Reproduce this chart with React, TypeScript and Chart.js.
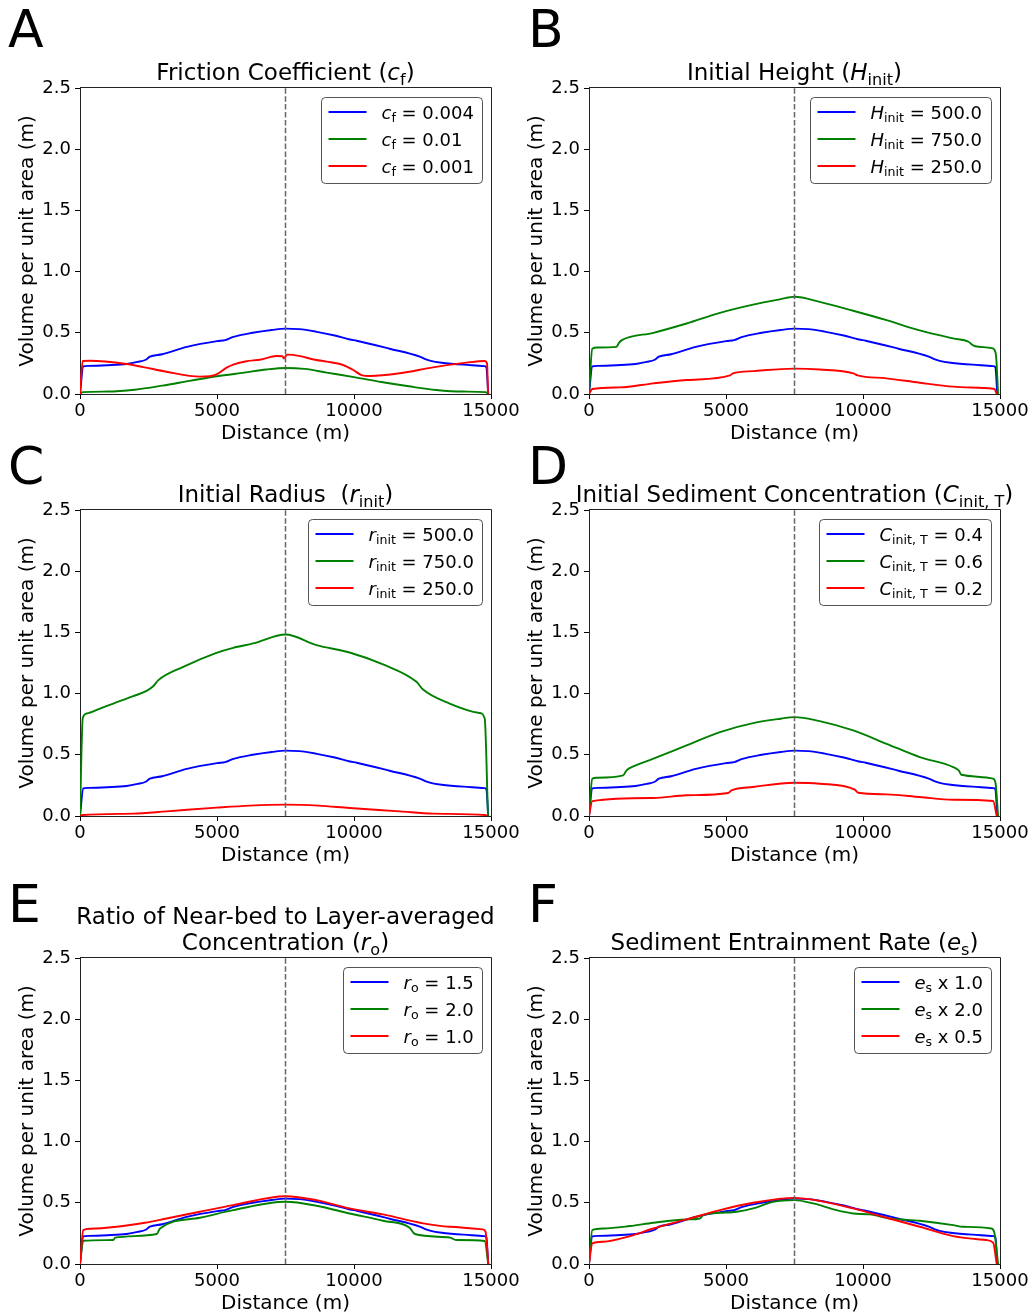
import React, { useEffect, useRef } from "react";
import { Chart, registerables } from "chart.js";

Chart.register(...registerables);

const FONT = '"DejaVu Sans", "Liberation Sans", sans-serif';

// Axis ranges shared by every panel
const DIST_MIN = 0;
const DIST_MAX = 15000;
const DIST_STEP = 5000;
const VOL_MIN = 0;
const VOL_MAX = 2.5;
const VOL_STEP = 0.5;
const MID_DISTANCE = 7500;

const X_LABEL = "Distance (m)";
const Y_LABEL = "Volume per unit area (m)";

const BLUE = "#0000ff";
const GREEN = "#008000";
const RED = "#ff0000";

// Reference run (blue in every panel)
const BASE_X = [0, 120, 300, 1000, 1700, 2100, 2400, 2550, 3000, 3900, 5000, 5300, 5600, 6300, 7000, 7500, 8000, 8600, 9300, 9850, 10100, 11300, 12400, 12600, 12800, 13200, 14000, 14750, 14830, 14900];
const BASE_Y = [0, 0.225, 0.23, 0.235, 0.245, 0.262, 0.28, 0.305, 0.325, 0.385, 0.432, 0.44, 0.467, 0.5, 0.523, 0.534, 0.53, 0.51, 0.478, 0.445, 0.435, 0.37, 0.305, 0.285, 0.27, 0.255, 0.24, 0.228, 0.22, 0];

// A: friction coefficient
const A_GREEN_X = [0, 100, 1000, 2000, 3000, 4000, 5000, 6000, 6800, 7500, 8200, 9000, 10000, 11000, 12000, 13000, 14000, 14800, 14900];
const A_GREEN_Y = [0, 0.015, 0.02, 0.035, 0.068, 0.107, 0.145, 0.175, 0.2, 0.213, 0.205, 0.175, 0.138, 0.098, 0.063, 0.033, 0.02, 0.015, 0];
const A_RED_X = [0, 100, 365, 1700, 2310, 3160, 4375, 4740, 4985, 5350, 5590, 6080, 6565, 7170, 7390, 7440, 7560, 7780, 8630, 8995, 9600, 9970, 10270, 10575, 11670, 12885, 14100, 14770, 14855, 14890];
const A_RED_Y = [0, 0.27, 0.272, 0.245, 0.22, 0.182, 0.142, 0.145, 0.16, 0.215, 0.24, 0.268, 0.28, 0.31, 0.308, 0.29, 0.322, 0.32, 0.278, 0.265, 0.237, 0.196, 0.155, 0.147, 0.169, 0.218, 0.256, 0.27, 0.25, 0];

// B: initial height
const B_GREEN_X = [0, 120, 300, 1000, 1100, 1200, 2350, 3560, 4780, 5990, 7000, 7500, 8420, 9640, 10860, 12070, 13290, 13850, 14000, 14100, 14700, 14800, 14860, 14930];
const B_GREEN_Y = [0, 0.37, 0.38, 0.385, 0.42, 0.44, 0.5, 0.576, 0.663, 0.73, 0.775, 0.795, 0.753, 0.68, 0.603, 0.52, 0.454, 0.427, 0.4, 0.39, 0.375, 0.36, 0.3, 0];
const B_RED_X = [0, 120, 1130, 2350, 3560, 5150, 5250, 5990, 7500, 8420, 9650, 9800, 10860, 12070, 13290, 14750, 14800, 14880];
const B_RED_Y = [0, 0.041, 0.054, 0.087, 0.114, 0.152, 0.168, 0.187, 0.207, 0.2, 0.168, 0.152, 0.128, 0.092, 0.06, 0.043, 0.04, 0];

// C: initial radius
const C_GREEN_X = [0, 100, 240, 730, 1215, 1945, 2430, 2670, 2860, 3770, 4980, 5590, 6320, 7500, 8630, 9840, 11060, 12280, 12520, 13490, 14580, 14770, 14890];
const C_GREEN_Y = [0, 0.8, 0.837, 0.878, 0.919, 0.979, 1.022, 1.06, 1.11, 1.219, 1.333, 1.374, 1.41, 1.483, 1.396, 1.336, 1.238, 1.096, 1.033, 0.919, 0.842, 0.796, 0];
const C_RED_X = [0, 100, 1945, 3160, 4980, 6200, 7500, 8700, 9840, 11670, 12880, 14770, 14890];
const C_RED_Y = [0, 0.008, 0.019, 0.038, 0.068, 0.085, 0.093, 0.085, 0.065, 0.038, 0.019, 0.008, 0];

// D: initial sediment concentration
const D_GREEN_X = [0, 120, 280, 1250, 1370, 1620, 2350, 3560, 4780, 5990, 7000, 7500, 8420, 9640, 10860, 12070, 13290, 13500, 13590, 14750, 14840, 14930];
const D_GREEN_Y = [0, 0.305, 0.313, 0.332, 0.373, 0.405, 0.468, 0.577, 0.686, 0.759, 0.795, 0.808, 0.775, 0.699, 0.59, 0.481, 0.4, 0.37, 0.337, 0.305, 0.264, 0];
const D_RED_X = [0, 120, 2350, 3560, 5080, 5200, 5990, 7500, 8420, 9700, 9820, 10860, 12070, 13290, 14750, 14880];
const D_RED_Y = [0, 0.122, 0.147, 0.169, 0.188, 0.209, 0.237, 0.272, 0.264, 0.215, 0.19, 0.177, 0.155, 0.133, 0.122, 0];

// E: near-bed to layer-averaged concentration ratio
const E_GREEN_X = [0, 120, 1215, 1280, 2800, 2920, 4375, 5590, 7500, 8630, 9840, 11060, 12030, 12220, 13490, 13730, 14770, 14900];
const E_GREEN_Y = [0, 0.19, 0.196, 0.215, 0.245, 0.29, 0.378, 0.44, 0.508, 0.476, 0.413, 0.353, 0.296, 0.245, 0.217, 0.196, 0.188, 0];
const E_RED_X = [0, 120, 365, 1340, 2370, 3160, 4375, 5590, 7500, 8630, 9840, 11060, 12520, 13490, 14700, 14800, 14900];
const E_RED_Y = [0, 0.277, 0.288, 0.304, 0.337, 0.372, 0.427, 0.481, 0.554, 0.522, 0.454, 0.405, 0.332, 0.304, 0.283, 0.264, 0];

// F: sediment entrainment rate
const F_GREEN_X = [0, 120, 520, 1500, 2350, 3560, 4050, 4170, 4780, 5390, 5990, 6720, 7500, 8180, 9030, 9640, 10250, 10980, 12070, 13290, 13650, 14680, 14800, 14930];
const F_GREEN_Y = [0, 0.277, 0.29, 0.31, 0.337, 0.364, 0.372, 0.4, 0.418, 0.427, 0.454, 0.508, 0.522, 0.495, 0.44, 0.413, 0.405, 0.372, 0.353, 0.318, 0.304, 0.29, 0.25, 0];
const F_RED_X = [0, 120, 520, 1500, 2350, 3560, 4780, 5990, 7500, 8420, 9640, 10860, 12070, 13290, 14500, 14750, 14880];
const F_RED_Y = [0, 0.168, 0.182, 0.228, 0.29, 0.364, 0.44, 0.5, 0.54, 0.516, 0.454, 0.378, 0.304, 0.228, 0.196, 0.174, 0];

// Legend values per panel (blue, green, red)
const A_VALUES = ["0.004", "0.01", "0.001"];
const B_VALUES = ["500.0", "750.0", "250.0"];
const C_VALUES = ["500.0", "750.0", "250.0"];
const D_VALUES = ["0.4", "0.6", "0.2"];
const E_VALUES = ["1.5", "2.0", "1.0"];
const F_VALUES = ["1.0", "2.0", "0.5"];

type Run = { t: string; it?: boolean; sub?: boolean };

type Series = { xs: number[]; ys: number[]; color: string };

type PanelCfg = {
  letter: string;
  letterX: number;
  letterY: number;
  left: number; // page x of plot area
  top: number; // page y of plot area
  title: Run[][];
  sym: string;
  sub: string;
  op: string;
  values: string[];
  series: Series[];
};

// Canvas geometry around a 411 x 306 plot area
const PAD_L = 80;
const PAD_T = 88;
const PLOT_W = 411;
const PLOT_H = 306;
const CANVAS_W = 521;
const CANVAS_H = 446;

const PANELS: PanelCfg[] = [
  {
    letter: "A", letterX: 8, letterY: 47, left: 80, top: 88,
    title: [[{ t: "Friction Coefficient (" }, { t: "c", it: true }, { t: "f", sub: true }, { t: ")" }]],
    sym: "c", sub: "f", op: " = ", values: A_VALUES,
    series: [
      { xs: BASE_X, ys: BASE_Y, color: BLUE },
      { xs: A_GREEN_X, ys: A_GREEN_Y, color: GREEN },
      { xs: A_RED_X, ys: A_RED_Y, color: RED },
    ],
  },
  {
    letter: "B", letterX: 528, letterY: 47, left: 589, top: 88,
    title: [[{ t: "Initial Height (" }, { t: "H", it: true }, { t: "init", sub: true }, { t: ")" }]],
    sym: "H", sub: "init", op: " = ", values: B_VALUES,
    series: [
      { xs: BASE_X, ys: BASE_Y, color: BLUE },
      { xs: B_GREEN_X, ys: B_GREEN_Y, color: GREEN },
      { xs: B_RED_X, ys: B_RED_Y, color: RED },
    ],
  },
  {
    letter: "C", letterX: 8, letterY: 484, left: 80, top: 510,
    title: [[{ t: "Initial Radius  (" }, { t: "r", it: true }, { t: "init", sub: true }, { t: ")" }]],
    sym: "r", sub: "init", op: " = ", values: C_VALUES,
    series: [
      { xs: BASE_X, ys: BASE_Y, color: BLUE },
      { xs: C_GREEN_X, ys: C_GREEN_Y, color: GREEN },
      { xs: C_RED_X, ys: C_RED_Y, color: RED },
    ],
  },
  {
    letter: "D", letterX: 528, letterY: 484, left: 589, top: 510,
    title: [[{ t: "Initial Sediment Concentration (" }, { t: "C", it: true }, { t: "init, T", sub: true }, { t: ")" }]],
    sym: "C", sub: "init, T", op: " = ", values: D_VALUES,
    series: [
      { xs: BASE_X, ys: BASE_Y, color: BLUE },
      { xs: D_GREEN_X, ys: D_GREEN_Y, color: GREEN },
      { xs: D_RED_X, ys: D_RED_Y, color: RED },
    ],
  },
  {
    letter: "E", letterX: 8, letterY: 922, left: 80, top: 958,
    title: [
      [{ t: "Ratio of Near-bed to Layer-averaged" }],
      [{ t: "Concentration (" }, { t: "r", it: true }, { t: "o", sub: true }, { t: ")" }],
    ],
    sym: "r", sub: "o", op: " = ", values: E_VALUES,
    series: [
      { xs: BASE_X, ys: BASE_Y, color: BLUE },
      { xs: E_GREEN_X, ys: E_GREEN_Y, color: GREEN },
      { xs: E_RED_X, ys: E_RED_Y, color: RED },
    ],
  },
  {
    letter: "F", letterX: 528, letterY: 922, left: 589, top: 958,
    title: [[{ t: "Sediment Entrainment Rate (" }, { t: "e", it: true }, { t: "s", sub: true }, { t: ")" }]],
    sym: "e", sub: "s", op: " x ", values: F_VALUES,
    series: [
      { xs: BASE_X, ys: BASE_Y, color: BLUE },
      { xs: F_GREEN_X, ys: F_GREEN_Y, color: GREEN },
      { xs: F_RED_X, ys: F_RED_Y, color: RED },
    ],
  },
];

function runFont(r: Run, size: number) {
  const s = r.sub ? size * 0.7 : size;
  return `${r.it ? "italic " : ""}${s}px ${FONT}`;
}

function measureRuns(ctx: CanvasRenderingContext2D, runs: Run[], size: number) {
  let w = 0;
  for (const r of runs) {
    ctx.font = runFont(r, size);
    w += ctx.measureText(r.t).width;
  }
  return w;
}

function drawRuns(ctx: CanvasRenderingContext2D, runs: Run[], x: number, y: number, size: number) {
  let cx = x;
  ctx.textAlign = "left";
  ctx.textBaseline = "alphabetic";
  for (const r of runs) {
    ctx.font = runFont(r, size);
    ctx.fillText(r.t, cx, y + (r.sub ? size * 0.22 : 0));
    cx += ctx.measureText(r.t).width;
  }
}

function makeDecor(cfg: PanelCfg) {
  const offX = cfg.left - PAD_L;
  const offY = cfg.top - PAD_T;
  return {
    id: "panelDecor",
    afterDraw(chart: Chart) {
      const ctx = chart.ctx;
      const a = chart.chartArea;
      ctx.save();

      // top and right spines
      ctx.strokeStyle = "#222";
      ctx.lineWidth = 1;
      ctx.beginPath();
      const rx = Math.round(a.right) + 0.5;
      const ty = Math.round(a.top) - 0.5;
      ctx.moveTo(a.left, ty);
      ctx.lineTo(rx, ty);
      ctx.lineTo(rx, a.bottom);
      ctx.stroke();

      // panel letter
      ctx.fillStyle = "#000";
      ctx.font = `52px ${FONT}`;
      ctx.textAlign = "left";
      ctx.textBaseline = "alphabetic";
      ctx.fillText(cfg.letter, cfg.letterX - offX, cfg.letterY - offY);

      // title
      const tsize = 23;
      const cx = (a.left + a.right) / 2;
      const n = cfg.title.length;
      cfg.title.forEach((line, i) => {
        const w = measureRuns(ctx, line, tsize);
        const by = a.top - 8 - (n - 1 - i) * 26;
        drawRuns(ctx, line, cx - w / 2, by, tsize);
      });

      // legend
      const lsize = 18;
      const items = chart.data.datasets.slice(0, cfg.values.length).map((ds, i) => ({
        color: ds.borderColor as string,
        runs: [
          { t: cfg.sym, it: true },
          { t: cfg.sub, sub: true },
          { t: cfg.op + cfg.values[i] },
        ] as Run[],
      }));
      let textW = 0;
      for (const it of items) textW = Math.max(textW, measureRuns(ctx, it.runs, lsize));
      const boxW = Math.round(60 + textW + 9);
      const boxH = 86;
      const right = Math.round(a.right - 9) + 0.5;
      const top = Math.round(a.top + 9) + 0.5;
      const left = right - boxW;
      ctx.beginPath();
      ctx.roundRect(left, top, boxW, boxH, 4);
      ctx.fillStyle = "rgba(255,255,255,0.85)";
      ctx.fill();
      ctx.strokeStyle = "rgba(40,40,40,0.8)";
      ctx.lineWidth = 1;
      ctx.stroke();
      items.forEach((it, i) => {
        const y = top - 0.5 + 15 + 27 * i;
        ctx.beginPath();
        ctx.strokeStyle = it.color;
        ctx.lineWidth = 1.8;
        ctx.moveTo(left + 7, y);
        ctx.lineTo(left + 45, y);
        ctx.stroke();
        ctx.fillStyle = "#000";
        drawRuns(ctx, it.runs, left + 60, y + 6.5, lsize);
      });

      ctx.restore();
    },
  };
}

function Panel({ cfg }: { cfg: PanelCfg }) {
  const ref = useRef<HTMLCanvasElement | null>(null);

  useEffect(() => {
    if (!ref.current) return;
    const datasets: any[] = cfg.series.map((s, i) => ({
      data: s.xs.map((x, k) => ({ x, y: s.ys[k] })),
      borderColor: s.color,
      backgroundColor: s.color,
      borderWidth: 1.9,
      pointRadius: 0,
      fill: false,
      cubicInterpolationMode: "monotone",
      order: cfg.series.length - i,
    }));
    datasets.push({
      data: [
        { x: MID_DISTANCE, y: VOL_MIN },
        { x: MID_DISTANCE, y: VOL_MAX },
      ],
      borderColor: "#666",
      borderWidth: 1.5,
      borderDash: [5.5, 2.4],
      pointRadius: 0,
      fill: false,
      order: 0,
    });

    const tickFont = { family: FONT, size: 18 };
    const labelFont = { family: FONT, size: 20 };

    const chart = new Chart(ref.current, {
      type: "line",
      data: { datasets },
      options: {
        responsive: false,
        animation: false,
        events: [],
        layout: { padding: { left: 0, top: PAD_T, right: CANVAS_W - PAD_L - PLOT_W, bottom: 0 } },
        plugins: {
          legend: { display: false },
          title: { display: false },
          tooltip: { enabled: false },
        },
        scales: {
          x: {
            type: "linear",
            min: DIST_MIN,
            max: DIST_MAX,
            ticks: {
              stepSize: DIST_STEP,
              autoSkip: false,
              maxRotation: 0,
              color: "#000",
              font: tickFont,
              padding: 2,
              callback: (v: any) => String(v),
            },
            grid: { drawOnChartArea: false, drawTicks: true, tickLength: 5, color: "#000" },
            border: { display: true, color: "#222", width: 1 },
            title: { display: true, text: X_LABEL, color: "#000", font: labelFont, padding: { top: 0, bottom: 0 } },
            afterFit: (s: any) => {
              s.height = CANVAS_H - PAD_T - PLOT_H;
              s.paddingLeft = 0;
              s.paddingRight = 0;
            },
          },
          y: {
            type: "linear",
            min: VOL_MIN,
            max: VOL_MAX,
            ticks: {
              stepSize: VOL_STEP,
              color: "#000",
              font: tickFont,
              padding: 4,
              callback: (v: any) => Number(v).toFixed(1),
            },
            grid: { drawOnChartArea: false, drawTicks: true, tickLength: 5, color: "#000" },
            border: { display: true, color: "#222", width: 1 },
            title: { display: true, text: Y_LABEL, color: "#000", font: labelFont, padding: { top: 16, bottom: 0 } },
            afterFit: (s: any) => {
              s.width = PAD_L;
              s.paddingTop = 0;
              s.paddingBottom = 0;
            },
          },
        },
      },
      plugins: [makeDecor(cfg)],
    } as any);

    return () => chart.destroy();
  }, [cfg]);

  return (
    <canvas
      ref={ref}
      width={CANVAS_W}
      height={CANVAS_H}
      style={{
        position: "absolute",
        left: cfg.left - PAD_L,
        top: cfg.top - PAD_T,
        width: CANVAS_W,
        height: CANVAS_H,
      }}
    />
  );
}

export default function App() {
  return (
    <div
      style={{
        position: "absolute",
        left: 0,
        top: 0,
        width: 1035,
        height: 1316,
        overflow: "hidden",
        background: "#fff",
      }}
    >
      {PANELS.map((p) => (
        <Panel key={p.letter} cfg={p} />
      ))}
    </div>
  );
}
